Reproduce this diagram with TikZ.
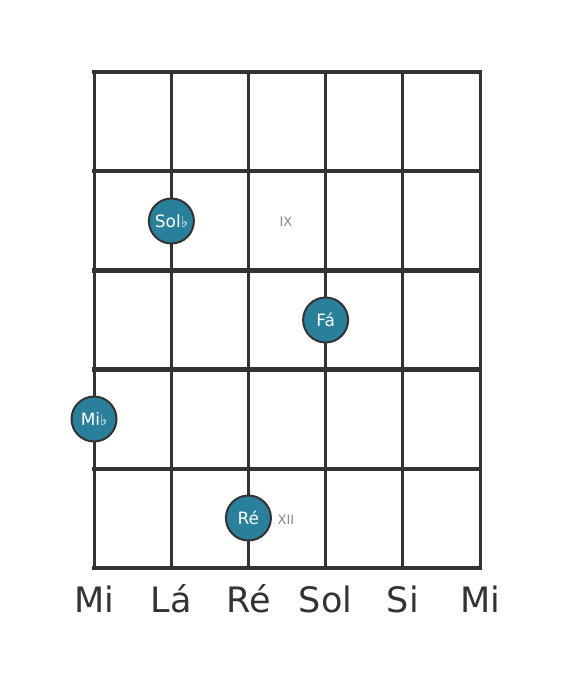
\documentclass[tikz,border=0pt]{standalone}
\usepackage{fontspec}
\setmainfont{DejaVu Sans}
\definecolor{lineGray}{HTML}{333333}
\definecolor{dotTeal}{HTML}{2A7F9A}
\definecolor{fretGray}{HTML}{888888}
\tikzset{
    nota/.style={circle, draw=lineGray, line width=2pt, fill=dotTeal, text=white,
        minimum size=45pt, inner sep=0pt, font=\fontsize{17}{17}\selectfont},
    casa/.style={text=fretGray, font=\fontsize{13}{13}\selectfont},
    corda/.style={text=lineGray, font=\fontsize{35}{35}\selectfont, anchor=base}
}
\newcommand{\bemol}{{\fontsize{15}{15}\selectfont ♭}}
\begin{document}
\begin{tikzpicture}[x=1pt, y=-1pt]
    \useasboundingbox (0,0) rectangle (568,682);
    % cordas
    \foreach \i in {0,...,5}
        \draw[lineGray, line width=3pt] ({94+77.2*\i},72) -- ({94+77.2*\i},568);
    % trastes
    \foreach \j in {0,...,5}
        \draw[lineGray, line width=4.5pt, line cap=rect] (94,{72+99.2*\j}) -- (480,{72+99.2*\j});
    % numeros das casas
    \node[casa] (ix) at (286,222) {IX};
    \node[casa] (xii) at (286,520) {XII};
    % notas
    \node[nota] (solb) at (171.4,221) {Sol\bemol};
    \node[nota] (fa) at (325.6,320) {Fá};
    \node[nota] (mib) at (94,419) {Mi\bemol};
    \node[nota] (re) at (248.4,518) {Ré};
    % nomes das cordas
    \node[corda] (c1) at (94,612) {Mi};
    \node[corda] (c2) at (171.2,612) {Lá};
    \node[corda] (c3) at (248.4,612) {Ré};
    \node[corda] (c4) at (325.6,612) {Sol};
    \node[corda] (c5) at (402.8,612) {Si};
    \node[corda] (c6) at (480,612) {Mi};
\end{tikzpicture}
\end{document}
